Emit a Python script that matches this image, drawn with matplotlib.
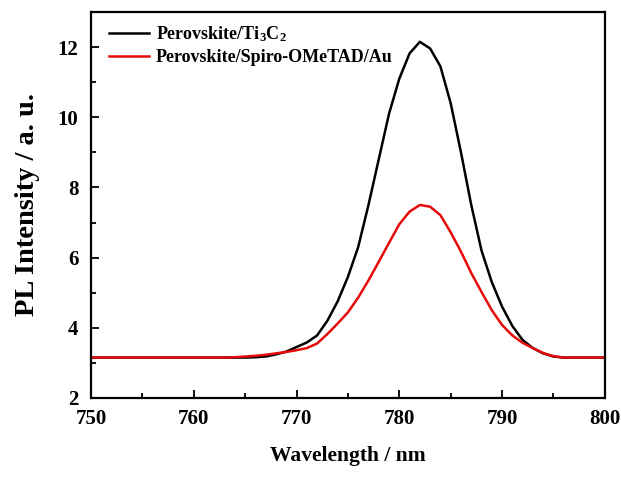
import matplotlib
matplotlib.use("Agg")
import matplotlib.pyplot as plt
from matplotlib.ticker import MultipleLocator

plt.rcParams['font.family'] = ['Liberation Serif', 'DejaVu Serif']
plt.rcParams['font.weight'] = 'bold'
plt.rcParams['mathtext.fontset'] = 'custom'
plt.rcParams['mathtext.rm'] = 'Liberation Serif:bold'
plt.rcParams['mathtext.it'] = 'Liberation Serif:bold'
plt.rcParams['mathtext.bf'] = 'Liberation Serif:bold'

wavelength = [750, 755, 760, 763, 764, 765, 766, 767, 768, 769, 770, 771, 772, 773, 774,
              775, 776, 777, 778, 779, 780, 781, 782, 783, 784, 785, 786, 787, 788,
              789, 790, 791, 792, 793, 794, 795, 796, 800]

ti3c2 = [3.15, 3.15, 3.15, 3.15, 3.15, 3.15, 3.16, 3.18, 3.24, 3.32, 3.45, 3.58, 3.78, 4.20, 4.75,
         5.45, 6.30, 7.50, 8.80, 10.10, 11.10, 11.82, 12.15, 11.96, 11.45, 10.40, 9.00, 7.50, 6.20,
         5.30, 4.60, 4.05, 3.65, 3.42, 3.27, 3.18, 3.15, 3.15]

spiro = [3.15, 3.15, 3.15, 3.15, 3.16, 3.18, 3.20, 3.23, 3.27, 3.31, 3.36, 3.42, 3.55, 3.82, 4.12,
         4.44, 4.86, 5.35, 5.88, 6.42, 6.95, 7.31, 7.50, 7.45, 7.21, 6.72, 6.17, 5.56, 5.02,
         4.50, 4.08, 3.78, 3.57, 3.42, 3.28, 3.19, 3.15, 3.15]

labels = ["Perovskite/Ti$_3$C$_2$", "Perovskite/Spiro-OMeTAD/Au"]

fig = plt.figure(figsize=(6.21, 4.80), dpi=100)
ax = fig.add_axes([0.1465, 0.171, 0.8275, 0.804])

ax.plot(wavelength, ti3c2, color='black', lw=1.8, label=labels[0])
ax.plot(wavelength, spiro, color='#e60a0a', lw=1.8, label=labels[1])

ax.set_xlim(750, 800)
ax.set_ylim(2, 13)
ax.xaxis.set_major_locator(MultipleLocator(10))
ax.xaxis.set_minor_locator(MultipleLocator(5))
ax.yaxis.set_major_locator(MultipleLocator(2))
ax.yaxis.set_minor_locator(MultipleLocator(1))
ax.tick_params(which='both', direction='in', top=False, right=False, width=1.3)
ax.tick_params(which='major', length=6, labelsize=15)
ax.tick_params(axis='x', which='major', pad=8)
ax.tick_params(axis='y', which='major', pad=9)
ax.tick_params(which='minor', length=3.5)
for s in ax.spines.values():
    s.set_linewidth(1.6)

ax.set_xlabel("Wavelength / nm", fontsize=15.5, fontweight='bold', labelpad=12)
ax.set_ylabel("PL Intensity / a. u.", fontsize=20.5, fontweight='bold', labelpad=13)

leg = ax.legend(loc='upper left', frameon=False, fontsize=13, handlelength=2.2,
                handletextpad=0.4, borderaxespad=0.6, labelspacing=0.3,
                bbox_to_anchor=(0.0, 1.016))
for t in leg.get_texts():
    t.set_fontweight('bold')

fig.savefig("out.png", dpi=100)
